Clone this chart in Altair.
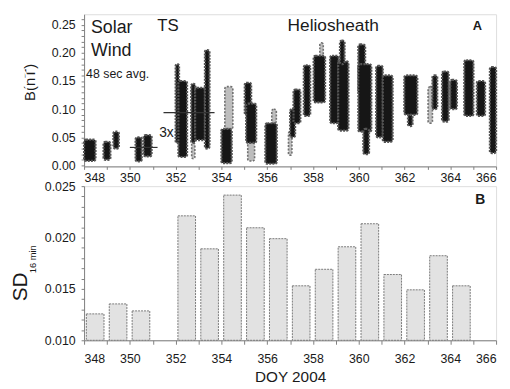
import altair as alt
import pandas as pd

strip_start = [348.00, 348.85, 349.28, 350.25, 350.60,
               352.00, 352.12, 352.68, 352.70, 352.85, 353.28,
               354.00, 354.15, 355.02, 355.08, 355.15, 355.92, 356.20,
               356.93, 357.00, 357.15, 357.60, 358.03, 358.30,
               358.75, 359.10, 359.18, 359.98, 359.98, 360.20,
               360.76, 361.05, 361.99, 362.15, 363.03, 363.22,
               363.64, 364.00, 364.61, 365.16, 365.73]
strip_end = [348.50, 349.15, 349.52, 350.52, 350.95,
             352.15, 352.50, 352.86, 352.84, 353.28, 353.48,
             354.45, 354.50, 355.30, 355.52, 355.45, 356.42, 356.40,
             357.08, 357.22, 357.45, 357.88, 358.53, 358.45,
             359.12, 359.55, 359.38, 360.28, 360.55, 360.45,
             361.05, 361.48, 362.56, 362.35, 363.22, 363.43,
             363.93, 364.29, 365.01, 365.52, 366.00]
strip_low = [0.008, 0.010, 0.030, 0.007, 0.016,
             0.040, 0.015, 0.040, 0.012, 0.045, 0.030,
             0.004, 0.065, 0.090, 0.040, 0.008, 0.003, 0.075,
             0.018, 0.050, 0.075, 0.088, 0.112, 0.190,
             0.075, 0.062, 0.180, 0.130, 0.060, 0.020,
             0.050, 0.042, 0.090, 0.070, 0.075, 0.100,
             0.078, 0.100, 0.088, 0.088, 0.022]
strip_high = [0.046, 0.042, 0.060, 0.050, 0.054,
              0.180, 0.150, 0.145, 0.040, 0.138, 0.205,
              0.065, 0.140, 0.147, 0.110, 0.040, 0.075, 0.100,
              0.060, 0.100, 0.135, 0.178, 0.195, 0.218,
              0.195, 0.185, 0.222, 0.215, 0.180, 0.065,
              0.177, 0.160, 0.160, 0.090, 0.140, 0.160,
              0.167, 0.152, 0.187, 0.150, 0.175]
strip_dense = [1, 1, 1, 1, 1,
               1, 1, 1, 0, 1, 1,
               1, 0, 1, 1, 0, 1, 0,
               0, 1, 1, 1, 1, 0,
               1, 1, 1, 1, 1, 1,
               1, 1, 1, 1, 0, 1,
               1, 1, 1, 1, 1]

# average levels (solar wind and 3x in the heliosheath)
ref_start = [350.00, 351.47]
ref_end = [351.21, 353.70]
ref_level = [0.032, 0.094]

# ---------------- Panel B: SD of 16 min averages per day
bar_day = [348, 349, 350, 352, 353, 354, 355, 356, 357, 358, 359, 360, 361, 362, 363, 364]
bar_sd = [0.01257, 0.01354, 0.01286, 0.02211, 0.01890, 0.02413, 0.02095, 0.01989,
          0.01530, 0.01691, 0.01910, 0.02134, 0.01640, 0.01491, 0.01823, 0.01530]

FONT = "Liberation Sans"
TXT = "#1a1a1a"
AX = "#808080"

strips = pd.DataFrame({"x0": strip_start, "x1": strip_end, "lo": strip_low,
                       "hi": strip_high, "dense": strip_dense})
refs = pd.DataFrame({"x0": ref_start, "x1": ref_end, "y": ref_level})
bars = pd.DataFrame({"day": bar_day, "sd": bar_sd})

xdom = [348, 366]
xticks = list(range(348, 367))

xs_top = alt.Scale(domain=xdom, nice=False, zero=False)
ys_top = alt.Scale(domain=[-0.0017, 0.2687], nice=False, zero=False)

x_axis_top = alt.Axis(values=xticks, labelExpr="datum.value % 2 == 0 ? datum.label : ''",
                      title=None, grid=False, tickSize=3, labelPadding=2,
                      labelFontSize=12.5, labelColor=TXT, domainColor=AX, tickColor=AX,
                      labelOverlap=False, labelFont=FONT)
y_axis_top = alt.Axis(values=[round(i * 0.01, 2) for i in range(0, 27)],
                      labelExpr="round(datum.value*100) % 5 == 0 ? format(datum.value, '.2f') : ''",
                      title=None, grid=False, tickSize=3, labelPadding=6,
                      labelFontSize=12.5, labelColor=TXT, domainColor=AX, tickColor=AX,
                      labelOverlap=False, labelFont=FONT)

base_top = alt.Chart(strips)
enc_top = dict(
    x=alt.X("x0:Q", scale=xs_top, axis=x_axis_top),
    x2="x1:Q",
    y=alt.Y("lo:Q", scale=ys_top, axis=y_axis_top),
    y2="hi:Q",
)

sparse_layer = base_top.transform_filter("datum.dense == 0").mark_rect(
    fill="#bdbdbd", stroke="#707070", strokeWidth=1.6, strokeDash=[2, 1.5], cornerRadius=2
).encode(**enc_top)

dense_layer = base_top.transform_filter("datum.dense == 1").mark_rect(
    fill="#161616", stroke="#555555", strokeWidth=2.2, strokeDash=[2, 1.2], cornerRadius=2
).encode(**enc_top)

ref_layer = alt.Chart(refs).mark_rule(color="#333333", strokeWidth=1.2).encode(
    x=alt.X("x0:Q", scale=xs_top, axis=x_axis_top), x2="x1:Q",
    y=alt.Y("y:Q", scale=ys_top, axis=y_axis_top)
)


def label(text, x, y, size, weight="normal", align="left", angle=0, color=TXT):
    kw = dict(text=text, fontSize=size, fontWeight=weight, align=align,
              baseline="middle", font=FONT, color=color)
    if angle:
        kw["angle"] = angle
    return alt.Chart(pd.DataFrame({"a": [0]})).mark_text(**kw).encode(
        x=alt.value(x), y=alt.value(y))


top = alt.layer(
    sparse_layer, dense_layer, ref_layer,
    label("Solar", 7, 14, 18),
    label("Wind", 7, 37, 18),
    label("48 sec avg.", 2, 61, 12.5),
    label("TS", 74, 12, 17),
    label("Heliosheath", 206, 12, 17.5),
    label("A", 398, 12, 13, weight="bold", align="center"),
    label("3x", 76, 120, 14),
    label("B(nT)", -55, 69, 15, align="center", angle=270),
    label("SD", -63.5, 69, 21, align="center", angle=270, color="white"),
).properties(width=417, height=154)

# ---------------- bottom panel
xs_b = alt.Scale(domain=xdom, nice=False, zero=False)
ys_b = alt.Scale(domain=[0.010, 0.025], nice=False, zero=False)

x_axis_b = alt.Axis(values=xticks, labelExpr="datum.value % 2 == 0 ? datum.label : ''",
                    title="DOY 2004", titleFontSize=15.5, titleFont=FONT, titleColor=TXT,
                    titleFontWeight="normal", titlePadding=5,
                    grid=False, tickSize=4, labelPadding=8,
                    labelFontSize=12.5, labelColor=TXT, domainColor=AX, tickColor=AX,
                    labelOverlap=False, labelFont=FONT)
y_axis_b = alt.Axis(values=[round(0.010 + i * 0.001, 3) for i in range(0, 16)],
                    labelExpr="round(datum.value*1000) % 5 == 0 ? format(datum.value, '.3f') : ''",
                    title=None, grid=False, tickSize=3, labelPadding=6,
                    labelFontSize=12.5, labelColor=TXT, domainColor=AX, tickColor=AX,
                    labelOverlap=False, labelFont=FONT)

bar_layer = alt.Chart(bars).transform_calculate(
    left="datum.day + 0.1", right="datum.day + 0.87"
).mark_rect(fill="#e2e2e2", stroke="#7a7a7a", strokeWidth=1, strokeDash=[2, 1]).encode(
    x=alt.X("left:Q", scale=xs_b, axis=x_axis_b),
    x2="right:Q",
    y=alt.Y("sd:Q", scale=ys_b, axis=y_axis_b),
    y2=alt.datum(0.010),
)

bottom = alt.layer(
    bar_layer,
    label("B", 401, 14, 14, weight="bold", align="center"),
    label("SD", -63.5, 102, 21, align="center", angle=270),
    label("16 min", -52, 74, 9.5, align="center", angle=270),
).properties(width=417, height=156)

chart = alt.vconcat(top, bottom, spacing=-5).properties(
    padding={"left": 2, "top": 2, "right": 4, "bottom": 2}
).configure_view(stroke="#999999", strokeWidth=1).configure(font=FONT)

chart.save("out.html", embed_options={"renderer": "svg", "actions": False})
